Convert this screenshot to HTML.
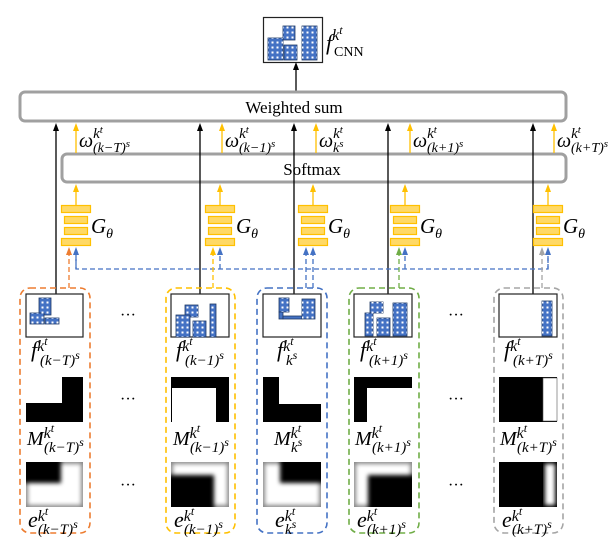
<!DOCTYPE html>
<html><head><meta charset="utf-8"><style>
html,body{margin:0;padding:0;background:#fff;}
svg{display:block;}
.m{font-family:"Liberation Serif",serif;font-style:italic;fill:#000;}
.r{font-family:"Liberation Serif",serif;fill:#000;}
</style></head><body>
<svg width="616" height="551" viewBox="0 0 616 551" xmlns="http://www.w3.org/2000/svg">
<defs>
<pattern id="win" width="5" height="5" patternUnits="userSpaceOnUse"><rect x="1.5" y="1.5" width="2" height="2" fill="#fff"/></pattern>
<marker id="ab" markerWidth="8" markerHeight="8" refX="4" refY="4" orient="auto" markerUnits="userSpaceOnUse"><path d="M0,1 L8,4 L0,7 z" fill="#000"/></marker>
<marker id="ay" markerWidth="8" markerHeight="8" refX="4" refY="4" orient="auto" markerUnits="userSpaceOnUse"><path d="M0,1 L8,4 L0,7 z" fill="#FFC000"/></marker>
<marker id="ao" markerWidth="8" markerHeight="8" refX="4" refY="4" orient="auto" markerUnits="userSpaceOnUse"><path d="M0,1 L8,4 L0,7 z" fill="#ED7D31"/></marker>
<marker id="abl" markerWidth="8" markerHeight="8" refX="4" refY="4" orient="auto" markerUnits="userSpaceOnUse"><path d="M0,1 L8,4 L0,7 z" fill="#4472C4"/></marker>
<marker id="ag" markerWidth="8" markerHeight="8" refX="4" refY="4" orient="auto" markerUnits="userSpaceOnUse"><path d="M0,1 L8,4 L0,7 z" fill="#70AD47"/></marker>
<marker id="agr" markerWidth="8" markerHeight="8" refX="4" refY="4" orient="auto" markerUnits="userSpaceOnUse"><path d="M0,1 L8,4 L0,7 z" fill="#A5A5A5"/></marker>
<filter id="bl" x="-20%" y="-20%" width="140%" height="140%"><feGaussianBlur stdDeviation="2.2"/></filter>
<clipPath id="c1"><rect x="26" y="462" width="57" height="45"/></clipPath>
<clipPath id="c2"><rect x="171" y="462" width="58" height="45"/></clipPath>
<clipPath id="c3"><rect x="263" y="462" width="58" height="45"/></clipPath>
<clipPath id="c4"><rect x="354" y="462" width="58" height="45"/></clipPath>
<clipPath id="c5"><rect x="499" y="462" width="58" height="45"/></clipPath>
</defs>

<rect x="263.5" y="17.5" width="59" height="45" fill="#fff" stroke="#222" stroke-width="1.2"/>
<g stroke="#1F3864" stroke-width="0.8">
<rect x="283" y="26" width="12" height="14" fill="#4472C4"/><rect x="283" y="26" width="12" height="14" fill="url(#win)" stroke="none"/>
<rect x="268" y="38" width="15" height="22" fill="#4472C4"/><rect x="268" y="38" width="15" height="22" fill="url(#win)" stroke="none"/>
<rect x="284" y="45" width="13" height="15" fill="#4472C4"/><rect x="284" y="45" width="13" height="15" fill="url(#win)" stroke="none"/>
<rect x="302" y="26" width="15" height="34" fill="#4472C4"/><rect x="302" y="26" width="15" height="34" fill="url(#win)" stroke="none"/>
</g>
<text class="m" x="326" y="50"><tspan font-size="22">f</tspan><tspan font-size="16" dy="-10">k</tspan><tspan font-size="12" dy="-6">t</tspan><tspan class="r" font-style="normal" font-size="14" x="334" y="56">CNN</tspan></text>
<line x1="296" y1="92" x2="296" y2="66" stroke="#000" stroke-width="1.3" marker-end="url(#ab)"/>

<rect x="20" y="92" width="546" height="29" rx="5" fill="#fff" stroke="#A0A0A0" stroke-width="3"/>
<text class="r" x="294" y="113" font-size="17" text-anchor="middle">Weighted sum</text>
<rect x="62" y="154" width="504" height="28" rx="5" fill="#fff" stroke="#A0A0A0" stroke-width="3"/>
<text class="r" x="312" y="175" font-size="17" text-anchor="middle">Softmax</text>

<g stroke="#000" stroke-width="1.3">
<line x1="56" y1="294" x2="56" y2="127" marker-end="url(#ab)"/>
<line x1="200" y1="294" x2="200" y2="127" marker-end="url(#ab)"/>
<line x1="294" y1="294" x2="294" y2="127" marker-end="url(#ab)"/>
<line x1="388" y1="294" x2="388" y2="127" marker-end="url(#ab)"/>
<line x1="533" y1="294" x2="533" y2="127" marker-end="url(#ab)"/>
</g>
<g stroke="#FFC000" stroke-width="1.3">
<line x1="76" y1="153" x2="76" y2="127" marker-end="url(#ay)"/>
<line x1="222" y1="153" x2="222" y2="127" marker-end="url(#ay)"/>
<line x1="316" y1="153" x2="316" y2="127" marker-end="url(#ay)"/>
<line x1="410" y1="153" x2="410" y2="127" marker-end="url(#ay)"/>
<line x1="554" y1="153" x2="554" y2="127" marker-end="url(#ay)"/>
<line x1="76" y1="205" x2="76" y2="188" marker-end="url(#ay)"/>
<line x1="220" y1="205" x2="220" y2="188" marker-end="url(#ay)"/>
<line x1="313" y1="205" x2="313" y2="188" marker-end="url(#ay)"/>
<line x1="405" y1="205" x2="405" y2="188" marker-end="url(#ay)"/>
<line x1="548" y1="205" x2="548" y2="188" marker-end="url(#ay)"/>
</g>

<g class="m">
<text x="79" y="147"><tspan font-size="20">ω</tspan><tspan font-size="15" dy="-9">k</tspan><tspan font-size="11" dy="-5">t</tspan><tspan font-size="14" x="93" y="152">(k−T)</tspan><tspan font-size="11" dy="-5">s</tspan></text>
<text x="225" y="147"><tspan font-size="20">ω</tspan><tspan font-size="15" dy="-9">k</tspan><tspan font-size="11" dy="-5">t</tspan><tspan font-size="14" x="239" y="152">(k−1)</tspan><tspan font-size="11" dy="-5">s</tspan></text>
<text x="319" y="147"><tspan font-size="20">ω</tspan><tspan font-size="15" dy="-9">k</tspan><tspan font-size="11" dy="-5">t</tspan><tspan font-size="14" x="333" y="152">k</tspan><tspan font-size="11" dy="-5">s</tspan></text>
<text x="413" y="147"><tspan font-size="20">ω</tspan><tspan font-size="15" dy="-9">k</tspan><tspan font-size="11" dy="-5">t</tspan><tspan font-size="14" x="427" y="152">(k+1)</tspan><tspan font-size="11" dy="-5">s</tspan></text>
<text x="557" y="147"><tspan font-size="20">ω</tspan><tspan font-size="15" dy="-9">k</tspan><tspan font-size="11" dy="-5">t</tspan><tspan font-size="14" x="571" y="152">(k+T)</tspan><tspan font-size="11" dy="-5">s</tspan></text>
</g>

<g fill="#FFD966" stroke="#FFC000" stroke-width="1.2">
<rect x="61.5" y="205.5" width="29" height="7"/><rect x="64.5" y="216.5" width="23" height="7"/><rect x="64.5" y="227.5" width="23" height="7"/><rect x="61.5" y="238.5" width="29" height="7"/>
<rect x="205.5" y="205.5" width="29" height="7"/><rect x="208.5" y="216.5" width="23" height="7"/><rect x="208.5" y="227.5" width="23" height="7"/><rect x="205.5" y="238.5" width="29" height="7"/>
<rect x="298.5" y="205.5" width="29" height="7"/><rect x="301.5" y="216.5" width="23" height="7"/><rect x="301.5" y="227.5" width="23" height="7"/><rect x="298.5" y="238.5" width="29" height="7"/>
<rect x="390.5" y="205.5" width="29" height="7"/><rect x="393.5" y="216.5" width="23" height="7"/><rect x="393.5" y="227.5" width="23" height="7"/><rect x="390.5" y="238.5" width="29" height="7"/>
<rect x="533.5" y="205.5" width="29" height="7"/><rect x="536.5" y="216.5" width="23" height="7"/><rect x="536.5" y="227.5" width="23" height="7"/><rect x="533.5" y="238.5" width="29" height="7"/>
</g>
<g class="m">
<text x="91" y="233"><tspan font-size="21">G</tspan><tspan font-size="14" dy="5">θ</tspan></text>
<text x="236" y="233"><tspan font-size="21">G</tspan><tspan font-size="14" dy="5">θ</tspan></text>
<text x="328" y="233"><tspan font-size="21">G</tspan><tspan font-size="14" dy="5">θ</tspan></text>
<text x="420" y="233"><tspan font-size="21">G</tspan><tspan font-size="14" dy="5">θ</tspan></text>
<text x="563" y="233"><tspan font-size="21">G</tspan><tspan font-size="14" dy="5">θ</tspan></text>
</g>

<g fill="none" stroke-width="1.3" stroke-dasharray="5,3">
<path d="M76,251 V269 H548 V251" stroke="#4472C4"/>
<line x1="76" y1="269" x2="76" y2="251" stroke="#4472C4" marker-end="url(#abl)"/>
<line x1="220" y1="269" x2="220" y2="251" stroke="#4472C4" marker-end="url(#abl)"/>
<line x1="313" y1="288" x2="313" y2="251" stroke="#4472C4" marker-end="url(#abl)"/>
<line x1="405" y1="269" x2="405" y2="251" stroke="#4472C4" marker-end="url(#abl)"/>
<line x1="548" y1="269" x2="548" y2="251" stroke="#4472C4" marker-end="url(#abl)"/>
<line x1="69" y1="288" x2="69" y2="251" stroke="#ED7D31" marker-end="url(#ao)"/>
<line x1="213" y1="288" x2="213" y2="251" stroke="#FFC000" marker-end="url(#ay)"/>
<line x1="306" y1="288" x2="306" y2="251" stroke="#4472C4" marker-end="url(#abl)"/>
<line x1="399" y1="288" x2="399" y2="251" stroke="#70AD47" marker-end="url(#ag)"/>
<line x1="542" y1="288" x2="542" y2="251" stroke="#A5A5A5" marker-end="url(#agr)"/>
</g>

<g fill="none" stroke-width="1.6" stroke-dasharray="6,4">
<rect x="20" y="288" width="70" height="245" rx="10" stroke="#ED7D31"/>
<rect x="166" y="288" width="69" height="245" rx="10" stroke="#FFC000"/>
<rect x="257" y="288" width="70" height="245" rx="10" stroke="#4472C4"/>
<rect x="349" y="288" width="70" height="245" rx="10" stroke="#70AD47"/>
<rect x="494" y="288" width="69" height="245" rx="10" stroke="#A5A5A5"/>
</g>

<g fill="#fff" stroke="#222" stroke-width="1.2">
<rect x="26" y="294" width="57" height="43"/>
<rect x="171" y="294" width="58" height="43"/>
<rect x="263" y="294" width="58" height="43"/>
<rect x="354" y="294" width="58" height="43"/>
<rect x="499" y="294" width="58" height="43"/>
</g>
<g stroke="#1F3864" stroke-width="0.8" fill="#4472C4">
<rect x="39" y="298" width="12" height="17"/><rect x="30" y="313" width="14" height="11"/><rect x="45" y="318" width="14" height="6"/>
<rect x="185" y="305" width="13" height="12"/><rect x="176" y="315" width="14" height="22"/><rect x="193" y="321" width="13" height="16"/><rect x="210" y="304" width="6" height="33"/>
<rect x="279" y="298" width="10" height="14"/><rect x="279" y="312" width="4" height="7"/><rect x="283" y="316" width="19" height="3"/><rect x="302" y="299" width="13" height="20"/>
<rect x="370" y="302" width="13" height="11"/><rect x="365" y="313" width="8" height="23"/><rect x="377" y="318" width="13" height="18"/><rect x="393" y="303" width="14" height="33"/>
<rect x="542" y="301" width="10" height="35"/>
</g>
<g fill="url(#win)">
<rect x="39" y="298" width="12" height="17"/><rect x="30" y="313" width="14" height="11"/><rect x="45" y="318" width="14" height="6"/>
<rect x="185" y="305" width="13" height="12"/><rect x="176" y="315" width="14" height="22"/><rect x="193" y="321" width="13" height="16"/><rect x="210" y="304" width="6" height="33"/>
<rect x="279" y="298" width="10" height="14"/><rect x="302" y="299" width="13" height="20"/>
<rect x="370" y="302" width="13" height="11"/><rect x="365" y="313" width="8" height="23"/><rect x="377" y="318" width="13" height="18"/><rect x="393" y="303" width="14" height="33"/>
<rect x="542" y="301" width="10" height="35"/>
</g>

<rect x="26" y="377" width="57" height="45" fill="#000"/><rect x="26" y="377" width="36" height="26" fill="#fff"/>
<rect x="171" y="377" width="58" height="45" fill="#000"/><rect x="172" y="388" width="44" height="34" fill="#fff"/>
<rect x="263" y="377" width="58" height="45" fill="#000"/><rect x="279" y="377" width="42" height="27" fill="#fff"/>
<rect x="354" y="377" width="58" height="45" fill="#000"/><rect x="367" y="388" width="45" height="34" fill="#fff"/>
<rect x="499" y="377" width="58" height="45" fill="#000"/><rect x="543" y="378" width="14" height="43" fill="#fff" stroke="#555" stroke-width="0.6"/>

<g clip-path="url(#c1)"><rect x="26" y="462" width="57" height="45" fill="#888"/><rect x="28" y="464" width="53" height="41" fill="#fff" filter="url(#bl)"/><rect x="20" y="456" width="41" height="27" fill="#000" filter="url(#bl)"/></g>
<g clip-path="url(#c2)"><rect x="171" y="462" width="58" height="45" fill="#888"/><rect x="173" y="464" width="54" height="41" fill="#fff" filter="url(#bl)"/><rect x="165" y="475" width="49" height="38" fill="#000" filter="url(#bl)"/></g>
<g clip-path="url(#c3)"><rect x="263" y="462" width="58" height="45" fill="#888"/><rect x="265" y="464" width="54" height="41" fill="#fff" filter="url(#bl)"/><rect x="280" y="456" width="47" height="27" fill="#000" filter="url(#bl)"/></g>
<g clip-path="url(#c4)"><rect x="354" y="462" width="58" height="45" fill="#888"/><rect x="356" y="464" width="54" height="41" fill="#fff" filter="url(#bl)"/><rect x="368" y="475" width="50" height="38" fill="#000" filter="url(#bl)"/></g>
<g clip-path="url(#c5)"><rect x="499" y="462" width="58" height="45" fill="#000"/><rect x="545" y="464" width="10" height="41" fill="#fff" filter="url(#bl)"/></g>

<g class="r" font-size="16" text-anchor="middle">
<text x="128" y="320">···</text><text x="128" y="404">···</text><text x="128" y="490">···</text>
<text x="456" y="320">···</text><text x="456" y="404">···</text><text x="456" y="490">···</text>
</g>

<g class="m">
<text x="31" y="357"><tspan font-size="22">f</tspan><tspan font-size="16" dy="-6">k</tspan><tspan font-size="12" dy="-6">t</tspan><tspan font-size="15" x="40" y="365">(k−T)</tspan><tspan font-size="12" dy="-6">s</tspan></text>
<text x="176" y="357"><tspan font-size="22">f</tspan><tspan font-size="16" dy="-6">k</tspan><tspan font-size="12" dy="-6">t</tspan><tspan font-size="15" x="185" y="365">(k−1)</tspan><tspan font-size="12" dy="-6">s</tspan></text>
<text x="277" y="357"><tspan font-size="22">f</tspan><tspan font-size="16" dy="-6">k</tspan><tspan font-size="12" dy="-6">t</tspan><tspan font-size="15" x="286" y="365">k</tspan><tspan font-size="12" dy="-6">s</tspan></text>
<text x="360" y="357"><tspan font-size="22">f</tspan><tspan font-size="16" dy="-6">k</tspan><tspan font-size="12" dy="-6">t</tspan><tspan font-size="15" x="369" y="365">(k+1)</tspan><tspan font-size="12" dy="-6">s</tspan></text>
<text x="504" y="357"><tspan font-size="22">f</tspan><tspan font-size="16" dy="-6">k</tspan><tspan font-size="12" dy="-6">t</tspan><tspan font-size="15" x="513" y="365">(k+T)</tspan><tspan font-size="12" dy="-6">s</tspan></text>
</g>
<g class="m">
<text x="27" y="445"><tspan font-size="20">M</tspan><tspan font-size="16" dy="-7">k</tspan><tspan font-size="12" dy="-6">t</tspan><tspan font-size="15" x="44" y="452">(k−T)</tspan><tspan font-size="12" dy="-6">s</tspan></text>
<text x="173" y="445"><tspan font-size="20">M</tspan><tspan font-size="16" dy="-7">k</tspan><tspan font-size="12" dy="-6">t</tspan><tspan font-size="15" x="190" y="452">(k−1)</tspan><tspan font-size="12" dy="-6">s</tspan></text>
<text x="274" y="445"><tspan font-size="20">M</tspan><tspan font-size="16" dy="-7">k</tspan><tspan font-size="12" dy="-6">t</tspan><tspan font-size="15" x="291" y="452">k</tspan><tspan font-size="12" dy="-6">s</tspan></text>
<text x="355" y="445"><tspan font-size="20">M</tspan><tspan font-size="16" dy="-7">k</tspan><tspan font-size="12" dy="-6">t</tspan><tspan font-size="15" x="372" y="452">(k+1)</tspan><tspan font-size="12" dy="-6">s</tspan></text>
<text x="500" y="445"><tspan font-size="20">M</tspan><tspan font-size="16" dy="-7">k</tspan><tspan font-size="12" dy="-6">t</tspan><tspan font-size="15" x="517" y="452">(k+T)</tspan><tspan font-size="12" dy="-6">s</tspan></text>
</g>
<g class="m">
<text x="28" y="527"><tspan font-size="22">e</tspan><tspan font-size="16" dy="-6">k</tspan><tspan font-size="12" dy="-6">t</tspan><tspan font-size="15" x="38" y="534">(k−T)</tspan><tspan font-size="12" dy="-6">s</tspan></text>
<text x="174" y="527"><tspan font-size="22">e</tspan><tspan font-size="16" dy="-6">k</tspan><tspan font-size="12" dy="-6">t</tspan><tspan font-size="15" x="184" y="534">(k−1)</tspan><tspan font-size="12" dy="-6">s</tspan></text>
<text x="275" y="527"><tspan font-size="22">e</tspan><tspan font-size="16" dy="-6">k</tspan><tspan font-size="12" dy="-6">t</tspan><tspan font-size="15" x="285" y="534">k</tspan><tspan font-size="12" dy="-6">s</tspan></text>
<text x="357" y="527"><tspan font-size="22">e</tspan><tspan font-size="16" dy="-6">k</tspan><tspan font-size="12" dy="-6">t</tspan><tspan font-size="15" x="367" y="534">(k+1)</tspan><tspan font-size="12" dy="-6">s</tspan></text>
<text x="502" y="527"><tspan font-size="22">e</tspan><tspan font-size="16" dy="-6">k</tspan><tspan font-size="12" dy="-6">t</tspan><tspan font-size="15" x="512" y="534">(k+T)</tspan><tspan font-size="12" dy="-6">s</tspan></text>
</g>
</svg>
</body></html>
